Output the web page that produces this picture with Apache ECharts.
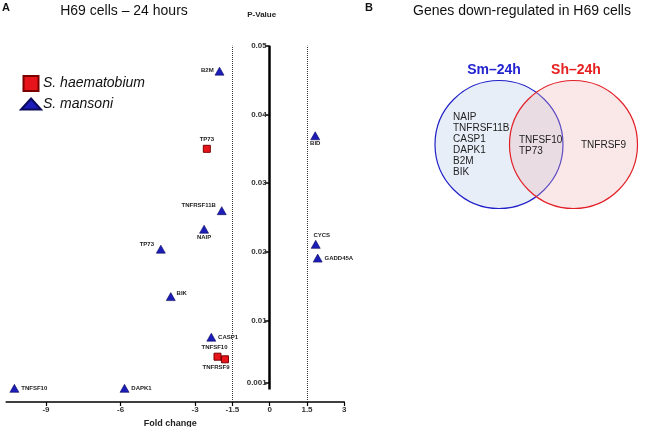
<!DOCTYPE html>
<html>
<head>
<meta charset="utf-8">
<title>H69 cells - 24 hours</title>
<script src="https://cdn.jsdelivr.net/npm/echarts@6/dist/echarts.min.js"></script>
<style>
  html, body { margin: 0; padding: 0; background: #fff; }
  #chart { width: 657px; height: 427px; }
</style>
</head>
<body>
<div id="chart"></div>
<script>
// data
var smGenes = ['B2M', 'BID', 'TNFRSF11B', 'NAIP', 'CYCS', 'GADD45A', 'TP73', 'BIK', 'CASP1', 'TNFSF10', 'DAPK1'];
var smFold  = [-2.02, 1.83, -1.93, -2.64, 1.85, 1.93, -4.38, -3.98, -2.35, -10.27, -5.84];
var smP     = [0.0463, 0.0369, 0.0260, 0.0233, 0.0211, 0.0191, 0.0204, 0.0135, 0.0076, 0.00016, 0.00016];

var shGenes = ['TP73', 'TNFSF10', 'TNFRSF9'];
var shFold  = [-2.53, -2.10, -1.80];
var shP     = [0.0350, 0.00476, 0.00438];

var xTicks  = [-9, -6, -3, -1.5, 0, 1.5, 3];
var yTicks  = [0.001, 0.01, 0.02, 0.03, 0.04, 0.05];
var cutoffs = [-1.5, 1.5];

// venn lists
var smOnly = ['NAIP', 'TNFRSF11B', 'CASP1', 'DAPK1', 'B2M', 'BIK'];
var both   = ['TNFSF10', 'TP73'];
var shOnly = ['TNFRSF9'];

var FONT = 'Liberation Sans, Arial, Helvetica, sans-serif';

var X_MIN = -10.6, X_MAX = 3;
var GRID_LEFT = 6.2, GRID_RIGHT = 312.7;
var GRID_W = 657 - GRID_LEFT - GRID_RIGHT;
// p-value axis sits at fold change 0
var Y_OFFSET = -(0 - X_MIN) / (X_MAX - X_MIN) * GRID_W;

// where each point's label sits
var labelPlace = {
    'Sm:B2M': ['left', [1, -1]],
    'Sm:BID': ['bottom', [0, -2]],
    'Sm:TNFRSF11B': ['left', [1, -5]],
    'Sm:NAIP': ['bottom', [0, -1]],
    'Sm:CYCS': ['top', [6, 0]],
    'Sm:GADD45A': ['right', [0, 0]],
    'Sm:TP73': ['left', [0, -5]],
    'Sm:BIK': ['right', [-1, -3]],
    'Sm:CASP1': ['right', [0, 0]],
    'Sm:TNFSF10': ['right', [0, 0]],
    'Sm:DAPK1': ['right', [0, 0]],
    'Sh:TP73': ['top', [0, 0]],
    'Sh:TNFSF10': ['top', [-3, 0]],
    'Sh:TNFRSF9': ['bottom', [-9, -1]]
};

function points(tag, genes, fold, p) {
    var out = [];
    for (var i = 0; i < genes.length; i++) {
        var pl = labelPlace[tag + ':' + genes[i]] || ['right', [0, 0]];
        out.push({
            name: genes[i],
            value: [fold[i], p[i]],
            label: { position: pl[0], offset: pl[1] }
        });
    }
    return out;
}

var pointLabel = {
    show: true,
    formatter: '{b}',
    fontSize: 6,
    fontWeight: 'bold',
    fontFamily: FONT,
    color: '#222',
    distance: 2
};

var markLines = [];
for (var c = 0; c < cutoffs.length; c++) {
    markLines.push({
        xAxis: cutoffs[c],
        lineStyle: { type: 'dotted', color: '#333', width: 1 }
    });
}
// vertical p-value axis from 0 to top
markLines.push([
    { coord: [0, 0], lineStyle: { type: 'solid', color: '#000', width: 2.5 } },
    { coord: [0, yTicks[yTicks.length - 1]] }
]);

var myChart = echarts.init(document.getElementById('chart'));

var option = {
    animation: false,
    textStyle: { fontFamily: FONT },
    grid: {
        left: GRID_LEFT, right: GRID_RIGHT, top: 45.7, bottom: 25,
        containLabel: false, outerBoundsMode: 'none'
    },
    legend: {
        orient: 'vertical',
        left: 20,
        top: 75,
        padding: 0,
        itemWidth: 20,
        itemHeight: 15,
        itemGap: 5,
        symbolKeepAspect: true,
        textStyle: { fontSize: 14, fontStyle: 'italic', color: '#111', fontFamily: FONT, padding: [0, 0, 0, -3] },
        data: [
            { name: 'S. haematobium', icon: 'path://M0,0H10V10H0Z' },
            { name: 'S. mansoni', icon: 'path://M10,0L20,11L0,11Z' }
        ]
    },
    xAxis: {
        type: 'value',
        min: X_MIN,
        max: X_MAX,
        name: 'Fold change',
        nameLocation: 'middle',
        nameGap: 13,
        nameTextStyle: { fontSize: 9, fontWeight: 'bold', color: '#222', padding: [0, 10, 0, 0] },
        axisLine: { onZero: false, lineStyle: { color: '#000', width: 1.5 } },
        axisTick: { show: true, length: 4, customValues: xTicks, lineStyle: { color: '#000', width: 1.2 } },
        axisLabel: {
            customValues: xTicks,
            fontSize: 8, fontWeight: 'bold', color: '#333', margin: 4,
            formatter: function (v) { return String(v); }
        },
        splitLine: { show: false }
    },
    yAxis: {
        type: 'value',
        position: 'left',
        offset: Y_OFFSET,
        min: -0.00183,
        max: 0.05,
        name: 'P-Value',
        nameLocation: 'end',
        nameGap: 27,
        nameTextStyle: { fontSize: 8, fontWeight: 'bold', color: '#222', padding: [0, 16, 0, 0] },
        axisLine: { show: false, onZero: false },
        axisTick: { show: true, inside: false, length: 5, customValues: yTicks, lineStyle: { color: '#000', width: 1.5 } },
        axisLabel: {
            customValues: yTicks,
            fontSize: 8, fontWeight: 'bold', color: '#333', margin: 3,
            formatter: function (v) { return String(v); }
        },
        splitLine: { show: false }
    },
    series: [
        {
            name: 'S. mansoni',
            type: 'scatter',
            symbol: 'triangle',
            symbolSize: [9, 8],
            clip: false,
            itemStyle: { color: '#1c1cb8', borderColor: '#0a0a5a', borderWidth: 0.6, opacity: 1 },
            label: pointLabel,
            data: points('Sm', smGenes, smFold, smP),
            markLine: {
                silent: true,
                symbol: ['none', 'none'],
                label: { show: false },
                data: markLines
            },
            z: 3
        },
        {
            name: 'S. haematobium',
            type: 'scatter',
            symbol: 'rect',
            symbolSize: 7,
            clip: false,
            itemStyle: { color: '#e8141c', borderColor: '#7a0000', borderWidth: 1, opacity: 1 },
            label: pointLabel,
            data: points('Sh', shGenes, shFold, shP),
            z: 4
        }
    ],
    graphic: [
        { type: 'text', style: { x: 2, y: 8, text: 'A', font: 'bold 11px ' + FONT, fill: '#111', textVerticalAlign: 'middle' } },
        { type: 'text', style: { x: 124, y: 11, text: 'H69 cells \u2013 24 hours', font: '14px ' + FONT, fill: '#111', textAlign: 'center', textVerticalAlign: 'middle' } },
        { type: 'text', style: { x: 365, y: 8, text: 'B', font: 'bold 11px ' + FONT, fill: '#111', textVerticalAlign: 'middle' } },
        { type: 'text', style: { x: 413, y: 11, text: 'Genes down-regulated in H69 cells', font: '14px ' + FONT, fill: '#111', textVerticalAlign: 'middle' } },
        // venn circles
        { type: 'circle', shape: { cx: 499, cy: 144.5, r: 64 }, style: { fill: 'rgba(205,218,240,0.45)', stroke: '#2121c8', lineWidth: 1.2 }, z: 1 },
        { type: 'circle', shape: { cx: 573.5, cy: 144.5, r: 64 }, style: { fill: 'rgba(240,180,180,0.3)', stroke: '#e21f26', lineWidth: 1.2 }, z: 2 },
        { type: 'text', style: { x: 494, y: 70, text: 'Sm\u201324h', font: 'bold 14px ' + FONT, fill: '#2323d0', textAlign: 'center', textVerticalAlign: 'middle' }, z: 3 },
        { type: 'text', style: { x: 576, y: 70, text: 'Sh\u201324h', font: 'bold 14px ' + FONT, fill: '#e52020', textAlign: 'center', textVerticalAlign: 'middle' }, z: 3 },
        { type: 'text', style: { x: 453, y: 111.5, text: smOnly.join('\n'), font: '10px ' + FONT, lineHeight: 11, fill: '#222' }, z: 3 },
        { type: 'text', style: { x: 519, y: 134.5, text: both.join('\n'), font: '10px ' + FONT, lineHeight: 11, fill: '#222' }, z: 3 },
        { type: 'text', style: { x: 581, y: 139.5, text: shOnly.join('\n'), font: '10px ' + FONT, lineHeight: 11, fill: '#222' }, z: 3 }
    ]
};

myChart.setOption(option);
</script>
</body>
</html>
